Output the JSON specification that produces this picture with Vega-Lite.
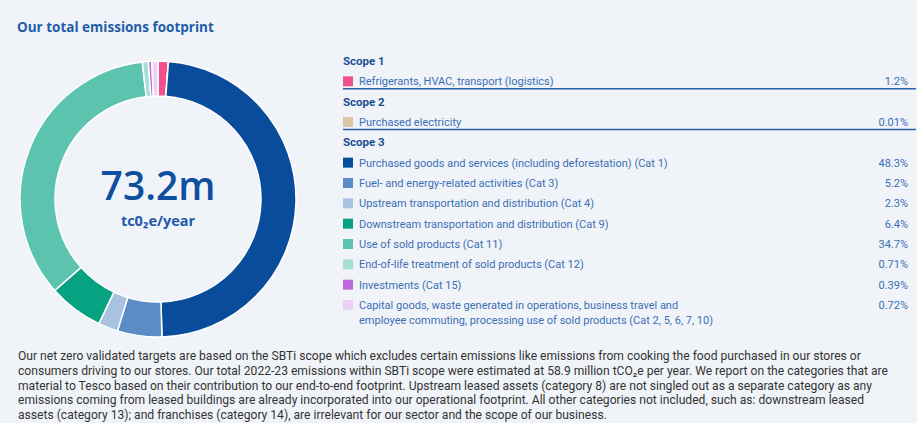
{
  "$schema": "https://vega.github.io/schema/vega-lite/v6.json",
  "background": "#f0f4f9",
  "padding": {"left": 17, "top": 20, "right": 2, "bottom": 4},
  "title": {"text": "Our total emissions footprint", "anchor": "start", "font": "Open Sans", "fontSize": 13.5, "fontWeight": "bold", "color": "#1f5da8", "offset": 22},
  "config": {"view": {"stroke": null}, "font": "Roboto"},
  "datasets": {
    "items": [
      {"kind": "header", "scope": "Scope 1", "label": "Scope 1"},
      {"kind": "item", "scope": "Scope 1", "label": "Refrigerants, HVAC, transport (logistics)", "pct": 1.2},
      {"kind": "header", "scope": "Scope 2", "label": "Scope 2"},
      {"kind": "item", "scope": "Scope 2", "label": "Purchased electricity", "pct": 0.01},
      {"kind": "header", "scope": "Scope 3", "label": "Scope 3"},
      {"kind": "item", "scope": "Scope 3", "label": "Purchased goods and services (including deforestation) (Cat 1)", "pct": 48.3},
      {"kind": "item", "scope": "Scope 3", "label": "Fuel- and energy-related activities (Cat 3)", "pct": 5.2},
      {"kind": "item", "scope": "Scope 3", "label": "Upstream transportation and distribution (Cat 4)", "pct": 2.3},
      {"kind": "item", "scope": "Scope 3", "label": "Downstream transportation and distribution (Cat 9)", "pct": 6.4},
      {"kind": "item", "scope": "Scope 3", "label": "Use of sold products (Cat 11)", "pct": 34.7},
      {"kind": "item", "scope": "Scope 3", "label": "End-of-life treatment of sold products (Cat 12)", "pct": 0.71},
      {"kind": "item", "scope": "Scope 3", "label": "Investments (Cat 15)", "pct": 0.39},
      {"kind": "item", "scope": "Scope 3", "label": "Capital goods, waste generated in operations, business travel and\nemployee commuting, processing use of sold products (Cat 2, 5, 6, 7, 10)", "pct": 0.72}
    ],
    "notes": [
      {"text": "Our net zero validated targets are based on the SBTi scope which excludes certain emissions like emissions from cooking the food purchased in our stores or"},
      {"text": "consumers driving to our stores. Our total 2022-23 emissions within SBTi scope were estimated at 58.9 million tCO₂e per year. We report on the categories that are"},
      {"text": "material to Tesco based on their contribution to our end-to-end footprint. Upstream leased assets (category 8) are not singled out as a separate category as any"},
      {"text": "emissions coming from leased buildings are already incorporated into our operational footprint. All other categories not included, such as: downstream leased"},
      {"text": "assets (category 13); and franchises (category 14), are irrelevant for our sector and the scope of our business."}
    ]
  },
  "spacing": 10,
  "vconcat": [
    {
      "spacing": 43,
      "hconcat": [
        {
          "width": 282,
          "height": 280,
          "layer": [
            {
              "data": {"name": "items"},
              "transform": [
                {"filter": "datum.kind == 'item'"},
                {"window": [{"op": "row_number", "as": "idx"}]}
              ],
              "mark": {"type": "arc", "radius": 138, "radius2": 103, "stroke": "#ffffff", "strokeWidth": 1.5},
              "encoding": {
                "theta": {"field": "pct", "type": "quantitative", "stack": true},
                "order": {"field": "idx", "type": "quantitative"},
                "color": {
                  "field": "label",
                  "type": "nominal",
                  "legend": null,
                  "scale": {
                    "domain": [
                      "Refrigerants, HVAC, transport (logistics)",
                      "Purchased electricity",
                      "Purchased goods and services (including deforestation) (Cat 1)",
                      "Fuel- and energy-related activities (Cat 3)",
                      "Upstream transportation and distribution (Cat 4)",
                      "Downstream transportation and distribution (Cat 9)",
                      "Use of sold products (Cat 11)",
                      "End-of-life treatment of sold products (Cat 12)",
                      "Investments (Cat 15)",
                      "Capital goods, waste generated in operations, business travel and\nemployee commuting, processing use of sold products (Cat 2, 5, 6, 7, 10)"
                    ],
                    "range": ["#f2508d", "#dcc6a6", "#0a4c9c", "#5b8cc5", "#a8c2e0", "#07a281", "#5cc4ae", "#a6e0d3", "#bc6ad9", "#ecd2f2"]
                  }
                }
              }
            },
            {
              "data": {"values": [{"total": "73.2m", "unit": "tc0₂e/year"}]},
              "layer": [
                {
                  "mark": {"type": "text", "align": "center", "baseline": "alphabetic", "dy": 1, "fontSize": 39, "fontWeight": 600, "font": "Open Sans", "color": "#0e4f9f"},
                  "encoding": {"text": {"field": "total"}}
                },
                {
                  "mark": {"type": "text", "align": "center", "baseline": "alphabetic", "dy": 27, "fontSize": 14.5, "fontWeight": "bold", "font": "Open Sans", "color": "#1d5aa8"},
                  "encoding": {"text": {"field": "unit"}}
                }
              ]
            }
          ]
        },
        {
          "width": 573,
          "height": 280,
          "data": {"name": "items"},
          "transform": [{"calculate": "datum.pct + '%'", "as": "pctText"}],
          "encoding": {
            "y": {
              "field": "label",
              "type": "ordinal",
              "sort": null,
              "scale": {
                "type": "point",
                "range": [2, 246],
                "padding": 0,
                "domain": [
                  "Scope 1",
                  "Refrigerants, HVAC, transport (logistics)",
                  "Scope 2",
                  "Purchased electricity",
                  "Scope 3",
                  "Purchased goods and services (including deforestation) (Cat 1)",
                  "Fuel- and energy-related activities (Cat 3)",
                  "Upstream transportation and distribution (Cat 4)",
                  "Downstream transportation and distribution (Cat 9)",
                  "Use of sold products (Cat 11)",
                  "End-of-life treatment of sold products (Cat 12)",
                  "Investments (Cat 15)",
                  "Capital goods, waste generated in operations, business travel and\nemployee commuting, processing use of sold products (Cat 2, 5, 6, 7, 10)"
                ]
              },
              "axis": null
            }
          },
          "layer": [
            {
              "transform": [{"filter": "datum.kind == 'item' && datum.scope != 'Scope 3'"}],
              "mark": {"type": "rule", "yOffset": 7.5, "strokeWidth": 1.5, "color": "#2d5fa6"},
              "encoding": {}
            },
            {
              "transform": [{"filter": "datum.kind == 'header'"}],
              "mark": {"type": "text", "align": "left", "baseline": "alphabetic", "dy": 4, "fontSize": 11.5, "fontWeight": "bold", "color": "#1a4e94"},
              "encoding": {"x": {"value": 0}, "text": {"field": "label"}}
            },
            {
              "transform": [{"filter": "datum.kind == 'item'"}],
              "mark": {"type": "square", "size": 100, "opacity": 1},
              "encoding": {"x": {"value": 5}, "color": {"field": "label", "type": "nominal", "legend": null}}
            },
            {
              "transform": [{"filter": "datum.kind == 'item'"}],
              "mark": {"type": "text", "align": "left", "baseline": "alphabetic", "dy": 4, "fontSize": 11, "color": "#3c6fb6", "lineBreak": "\n", "lineHeight": 15},
              "encoding": {"x": {"value": 16}, "text": {"field": "label"}}
            },
            {
              "transform": [{"filter": "datum.kind == 'item'"}],
              "mark": {"type": "text", "align": "right", "baseline": "alphabetic", "dy": 4, "dx": -8, "fontSize": 11, "color": "#3c6fb6"},
              "encoding": {"x": {"value": "width"}, "text": {"field": "pctText"}}
            }
          ]
        }
      ]
    },
    {
      "width": 880,
      "height": 59,
      "data": {"name": "notes"},
      "mark": {"type": "text", "align": "left", "baseline": "middle", "fontSize": 12.1, "color": "#333333"},
      "encoding": {
        "y": {"field": "text", "type": "ordinal", "sort": null, "scale": {"type": "point", "range": [0, 59], "padding": 0}, "axis": null},
        "x": {"value": 1},
        "text": {"field": "text"}
      }
    }
  ]
}
